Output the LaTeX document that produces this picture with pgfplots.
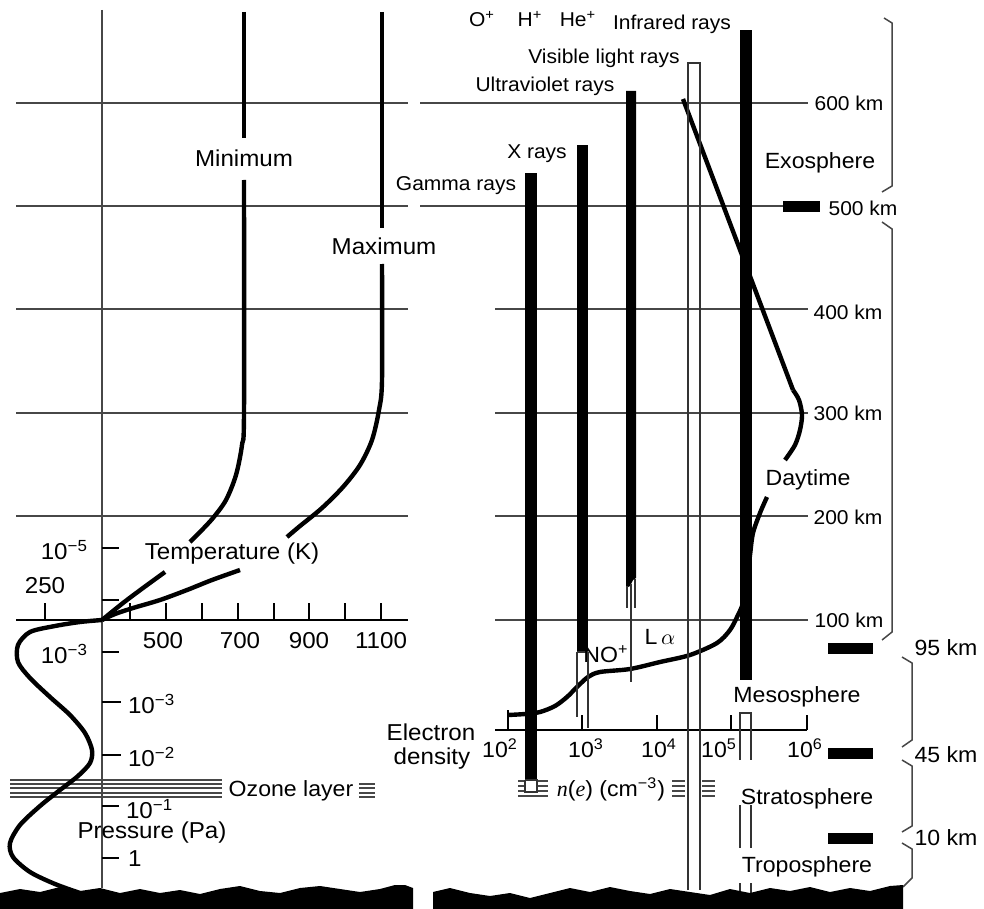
\documentclass[border=0pt]{standalone}
\usepackage{pgfplots}
\pgfplotsset{compat=1.18}
\usepackage{fontspec}
\setmainfont{Liberation Sans}[FakeStretch=1.05]
\newfontfamily\serif{Liberation Serif}
\newcommand\fL{\fontsize{11.5}{13}\selectfont}
\newcommand\fM{\fontsize{11}{13}\selectfont}
\newcommand\fS{\fontsize{10}{12}\selectfont}
\newcommand\sps[1]{\textsuperscript{#1}}
\tikzset{
 gl/.style={black!72,line width=0.75pt},
 tk/.style={black,line width=0.75pt},
 cv/.style={black,line width=2.2pt,line cap=butt},
 bar/.style={fill=black,draw=none},
 ob/.style={black!80,line width=0.75pt},
}
\begin{document}
\begin{tikzpicture}
\begin{axis}[width=492pt,height=454.5pt,scale only axis,at={(0,0)},anchor=south west,
 xmin=0,xmax=984,ymin=0,ymax=909,y dir=reverse,axis lines=none,clip=false]

% ---------- horizontal grid lines ----------
\addplot[gl] coordinates {(16,103)(408,103)};
\addplot[gl] coordinates {(16,206)(408,206)};
\addplot[gl] coordinates {(16,309)(408,309)};
\addplot[gl] coordinates {(16,413)(408,413)};
\addplot[gl] coordinates {(16,516)(408,516)};
\addplot[gl] coordinates {(420,103)(808,103)};
\addplot[gl] coordinates {(420,206)(784,206)};
\addplot[gl] coordinates {(495,309)(808,309)};
\addplot[gl] coordinates {(495,413)(808,413)};
\addplot[gl] coordinates {(495,516)(808,516)};
\addplot[gl] coordinates {(495,620)(808,620)};

% ---------- left panel axes ----------
\addplot[tk] coordinates {(16,620)(408,620)};
\addplot[gl] coordinates {(102,10)(102,888)};
% temperature ticks
\addplot[tk] coordinates {(45,620)(45,603)};
\addplot[tk] coordinates {(130,620)(130,603)};
\addplot[tk] coordinates {(166,620)(166,603)};
\addplot[tk] coordinates {(202,620)(202,603)};
\addplot[tk] coordinates {(238,620)(238,603)};
\addplot[tk] coordinates {(274,620)(274,603)};
\addplot[tk] coordinates {(309,620)(309,603)};
\addplot[tk] coordinates {(345,620)(345,603)};
\addplot[tk] coordinates {(381,620)(381,603)};
% pressure ticks
\addplot[tk] coordinates {(102,548)(119,548)};
\addplot[tk] coordinates {(102,600)(119,600)};
\addplot[tk] coordinates {(102,652)(119,652)};
\addplot[tk] coordinates {(102,702)(121,702)};
\addplot[tk] coordinates {(102,755)(121,755)};
\addplot[tk] coordinates {(102,806)(119,806)};
\addplot[tk] coordinates {(102,858)(119,858)};

% ozone layer lines
\addplot[gl] coordinates {(10,780)(222,780)};
\addplot[gl] coordinates {(10,784)(222,784)};
\addplot[gl] coordinates {(10,788)(222,788)};
\addplot[gl] coordinates {(10,793)(222,793)};
\addplot[gl] coordinates {(10,797)(222,797)};
\addplot[gl] coordinates {(359,784)(375,784)};
\addplot[gl] coordinates {(359,788)(375,788)};
\addplot[gl] coordinates {(359,793)(375,793)};
\addplot[gl] coordinates {(359,797)(375,797)};

% ---------- temperature curves ----------
\addplot[cv] coordinates {(244,12)(244,138)};
\addplot[cv,smooth] coordinates {(244,180)(244,413)(242,445)(236,475)(226,500)(213,518)(200,532)(190,542)};
\addplot[cv,smooth] coordinates {(165,572)(143,588)(123,603)(102,620)};
\addplot[cv] coordinates {(382,12)(382,228)};
\addplot[cv,smooth] coordinates {(382,264)(382,380)(379,410)(372,440)(360,465)(343,487)(322,508)(300,526)(287,537)};
\addplot[cv,smooth] coordinates {(240,570)(212,580)(187,590)(160,600)(133,608)(115,614)(102,620)};
\addplot[cv,smooth] coordinates {(102,620)(80,622)(55,626)(30,632)(18,645)(18,662)(30,678)(50,697)(70,715)(85,733)(92,750)(90,763)(78,776)(60,790)(40,806)(20,825)(10,843)(13,857)(30,872)(55,884)(80,893)};

% ---------- right panel: electron density axis ----------
\addplot[tk] coordinates {(495,730)(807,730)};
\addplot[tk] coordinates {(508,730)(508,715)};
\addplot[tk] coordinates {(582,730)(582,715)};
\addplot[tk] coordinates {(657,730)(657,715)};
\addplot[tk] coordinates {(731,730)(731,715)};
\addplot[tk] coordinates {(807,730)(807,715)};
% equal marks near n(e)
\addplot[gl] coordinates {(518,781)(548,781)};
\addplot[gl] coordinates {(518,786)(548,786)};
\addplot[gl] coordinates {(518,791)(548,791)};
\addplot[gl] coordinates {(518,796)(548,796)};
\addplot[gl] coordinates {(672,781)(685,781)};
\addplot[gl] coordinates {(672,786)(685,786)};
\addplot[gl] coordinates {(672,791)(685,791)};
\addplot[gl] coordinates {(672,796)(685,796)};
\addplot[gl] coordinates {(702,781)(715,781)};
\addplot[gl] coordinates {(702,786)(715,786)};
\addplot[gl] coordinates {(702,791)(715,791)};
\addplot[gl] coordinates {(702,796)(715,796)};

% ---------- electron density curve ----------
\addplot[tk] coordinates {(508,710)(508,721)};
\addplot[cv,smooth] coordinates {(508,715)(525,714)(540,712)(555,706)(567,697)(577,687)(588,677)(600,672)(630,669)(660,662)(690,655)(717,643)(730,630)(738,615)(743,603)(747,580)(750,555)(753,533)(760,513)(767,497)};
\addplot[cv,smooth] coordinates {(785,460)(795,445)(800,430)(802,415)(799,400)(793,390)};
\addplot[cv] coordinates {(793,390)(683,99)};

% ---------- radiation bars ----------
% gamma
\addplot[bar] coordinates {(525,173)(537,173)(537,780)(525,780)};
\addplot[ob,fill=white] coordinates {(525,780)(537,780)(537,792)(525,792)(525,780)};
% X rays
\addplot[bar] coordinates {(577,145)(588,145)(588,652)(577,652)};
\addplot[ob] coordinates {(577,652)(577,717)};
\addplot[ob] coordinates {(588,652)(588,728)};
\addplot[ob] coordinates {(577,652)(588,652)};
% ultraviolet
\addplot[bar] coordinates {(626,91)(636,91)(636,578)(633,580)(630,586)(626,588)};
\addplot[ob] coordinates {(627,586)(627,608)};
\addplot[ob] coordinates {(635,579)(635,608)};
\addplot[ob] coordinates {(631,584)(631,682)};
% visible light
\addplot[ob] coordinates {(688,890)(688,63)(700,63)(700,890)};
% infrared
\addplot[bar] coordinates {(740,30)(752,30)(752,680)(740,680)};
\addplot[ob] coordinates {(740,760)(740,713)(751,713)(751,760)};
\addplot[ob] coordinates {(740,805)(740,848)};
\addplot[ob] coordinates {(751,805)(751,848)};
\addplot[ob] coordinates {(740,883)(740,893)};
\addplot[ob] coordinates {(751,883)(751,893)};

% ---------- layer markers ----------
\addplot[bar] coordinates {(783,201)(820,201)(820,212)(783,212)};
\addplot[bar] coordinates {(828,643)(873,643)(873,654)(828,654)};
\addplot[bar] coordinates {(828,748)(873,748)(873,759)(828,759)};
\addplot[bar] coordinates {(828,833)(873,833)(873,844)(828,844)};

% ---------- braces ----------
\addplot[gl] coordinates {(884,18)(892,23)(892,186)(882,192)};
\addplot[gl] coordinates {(882,222)(892,229)(892,632)(882,640)};
\addplot[gl] coordinates {(902,657)(912,663)(912,740)(902,747)};
\addplot[gl] coordinates {(902,760)(912,766)(912,826)(902,832)};
\addplot[gl] coordinates {(902,843)(912,849)(912,878)(903,887)};

% ---------- ground ----------
\addplot[bar] coordinates {(0,893)(20,889)(40,892)(60,887)(80,891)(100,888)(120,893)(140,889)(160,893)(180,890)(200,894)(220,889)(240,886)(260,891)(280,893)(300,888)(320,886)(340,889)(360,892)(380,889)(395,885)(405,885)(413,888)(413,909)(0,909)};
\addplot[bar] coordinates {(433,892)(450,888)(470,893)(490,896)(510,893)(530,898)(550,893)(570,888)(590,892)(610,887)(630,891)(650,894)(670,889)(690,892)(710,895)(730,889)(750,893)(770,888)(790,891)(810,887)(830,892)(850,888)(870,891)(890,886)(903,885)(903,909)(433,909)};

% ---------- texts: left panel ----------
\node[font=\fL] at (axis cs:244,158) {Minimum};
\node[font=\fL] at (axis cs:384,246) {Maximum};
\node[font=\fL] at (axis cs:232,554) {Temperature (K)};
\node[font=\fL] at (axis cs:45,586) {250};
\node[font=\fL] at (axis cs:163,641) {500};
\node[font=\fL] at (axis cs:240,641) {700};
\node[font=\fL] at (axis cs:309,641) {900};
\node[font=\fL] at (axis cs:381,641) {1100};
\node[font=\fL,anchor=east] at (axis cs:95,550) {10\sps{−5}};
\node[font=\fL,anchor=east] at (axis cs:95,654) {10\sps{−3}};
\node[font=\fL,anchor=west] at (axis cs:121,704) {10\sps{−3}};
\node[font=\fL,anchor=west] at (axis cs:121,757) {10\sps{−2}};
\node[font=\fL,anchor=west] at (axis cs:119,809) {10\sps{−1}};
\node[font=\fL,anchor=west] at (axis cs:121,859) {1};
\node[font=\fL] at (axis cs:152,833) {Pressure (Pa)};
\node[font=\fM] at (axis cs:291,791) {Ozone layer};

% ---------- texts: right panel ----------
\node[font=\fS] at (axis cs:482,19) {O\sps{+}};
\node[font=\fS] at (axis cs:530,19) {H\sps{+}};
\node[font=\fS] at (axis cs:578,19) {He\sps{+}};
\node[font=\fS] at (axis cs:672,24) {Infrared rays};
\node[font=\fS] at (axis cs:604,58) {Visible light rays};
\node[font=\fS] at (axis cs:545,86) {Ultraviolet rays};
\node[font=\fS] at (axis cs:537,154) {X rays};
\node[font=\fS] at (axis cs:456,186) {Gamma rays};
\node[font=\fM] at (axis cs:820,163) {Exosphere};
\node[font=\fM] at (axis cs:808,480) {Daytime};
\node[font=\fM] at (axis cs:797,697) {Mesosphere};
\node[font=\fM] at (axis cs:807,799) {Stratosphere};
\node[font=\fM] at (axis cs:807,867) {Troposphere};
\node[font=\fS] at (axis cs:849,103) {600 km};
\node[font=\fS] at (axis cs:863,208) {500 km};
\node[font=\fS] at (axis cs:848,312) {400 km};
\node[font=\fS] at (axis cs:848,413) {300 km};
\node[font=\fS] at (axis cs:848,517) {200 km};
\node[font=\fS] at (axis cs:849,620) {100 km};
\node[font=\fM] at (axis cs:946,648) {95 km};
\node[font=\fM] at (axis cs:946,755) {45 km};
\node[font=\fM] at (axis cs:946,838) {10 km};
\node[font=\fM] at (axis cs:606,654) {NO\sps{+}};
\node[font=\fM] at (axis cs:660,637) {L\,$\alpha$};
\node[font=\fL] at (axis cs:431,732) {Electron};
\node[font=\fL] at (axis cs:432,759) {density};
\node[font=\fM] at (axis cs:500,748) {10\sps{2}};
\node[font=\fM] at (axis cs:586,748) {10\sps{3}};
\node[font=\fM] at (axis cs:659,748) {10\sps{4}};
\node[font=\fM] at (axis cs:719,748) {10\sps{5}};
\node[font=\fM] at (axis cs:805,748) {10\sps{6}};
\node[font=\fM] at (axis cs:611,789) {{\serif\itshape n}({\serif\itshape e}) (cm\sps{−3})};
\end{axis}
\pgfresetboundingbox
\path[use as bounding box] (0,0) rectangle (492pt,454.5pt);
\end{tikzpicture}
\end{document}
